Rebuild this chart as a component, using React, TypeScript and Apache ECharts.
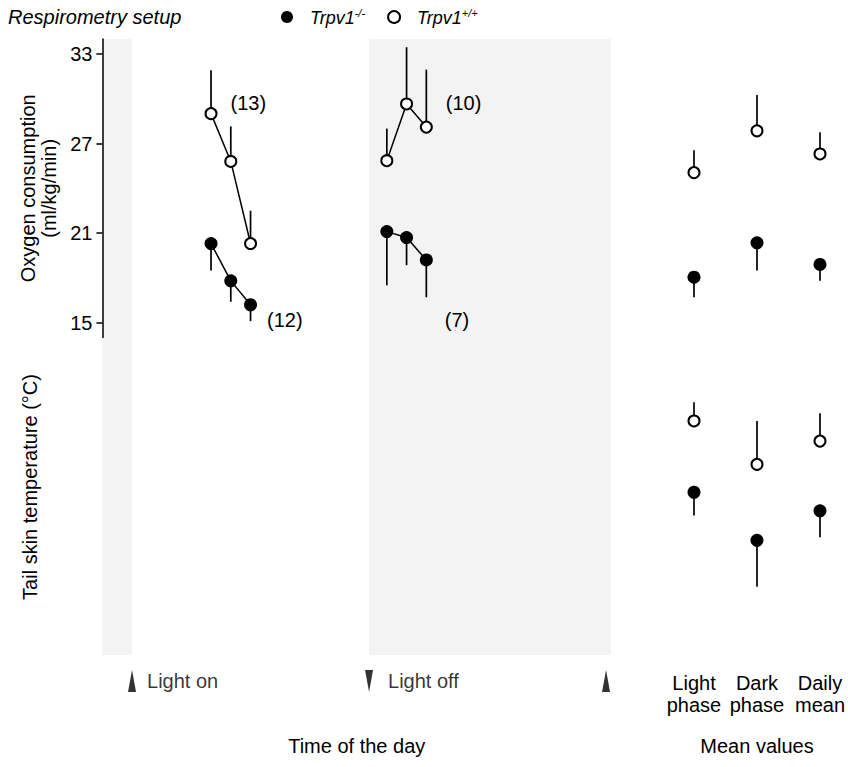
import React, { useEffect, useRef } from 'react';
import * as echarts from 'echarts';

// ---------- data ----------
const hoursLight = [4, 5, 6];
const hoursDark = [12.9, 13.9, 14.9];
const koO2Light = [20.3, 17.8, 16.2];
const koO2LightErr = [1.8, 1.4, 1.1];
const wtO2Light = [29.0, 25.8, 20.3];
const wtO2LightErr = [2.9, 2.35, 2.2];
const koO2Dark = [21.1, 20.7, 19.2];
const koO2DarkErr = [3.6, 1.85, 2.5];
const wtO2Dark = [25.85, 29.65, 28.1];
const wtO2DarkErr = [2.15, 3.8, 3.85];

const meanCategories = ['Light\nphase', 'Dark\nphase', 'Daily\nmean'];
const koO2Mean = [18.05, 20.35, 18.9];
const koO2MeanErr = [1.35, 1.85, 1.1];
const wtO2Mean = [25.05, 27.85, 26.3];
const wtO2MeanErr = [1.5, 2.4, 1.45];
const koTailMean = [29.25, 27.7, 28.65];
const koTailMeanErr = [0.75, 1.5, 0.85];
const wtTailMean = [31.55, 30.15, 30.9];
const wtTailMeanErr = [0.6, 1.4, 0.9];

const o2Ticks = [15, 21, 27, 33];
const darkPeriods = [[-1.5, 0], [12, 24.25]];
const lightEvents = [
  { hour: 0, dir: 'up', label: 'Light on', gap: 11 },
  { hour: 12, dir: 'down', label: 'Light off', gap: 15 },
  { hour: 24, dir: 'up', label: '', gap: 0 },
];
const nWtLight = '(13)';
const nKoLight = '(12)';
const nWtDark = '(10)';
const nKoDark = '(7)';

const KO = 'Trpv1-/-';
const WT = 'Trpv1+/+';
const FONT = '"Liberation Sans", Arial, sans-serif';
const FS = 20;

const UP_PATH = 'path://M4,0 L8,22 L0,22 Z';
const DOWN_PATH = 'path://M0,0 L8,0 L4,22 Z';

function errBars(xIdx: number, xs: number[], ys: number[], errs: number[], dir: number) {
  return {
    type: 'custom',
    xAxisIndex: xIdx,
    yAxisIndex: xIdx,
    z: 1,
    silent: true,
    clip: false,
    data: xs.map((x, i) => [x, ys[i], errs[i] * dir]),
    encode: { x: 0, y: 1 },
    renderItem: (params: any, api: any) => {
      const x = api.value(0);
      const y = api.value(1);
      const e = api.value(2);
      const p1 = api.coord([x, y]);
      const p2 = api.coord([x, y + e]);
      return {
        type: 'line',
        shape: { x1: p1[0], y1: p1[1], x2: p2[0], y2: p2[1] },
        style: { stroke: '#000', lineWidth: 1.7 },
      };
    },
  };
}

const openStyle = { color: '#fff', borderColor: '#000', borderWidth: 2, opacity: 1 };
const filledStyle = { color: '#000', borderColor: '#000', borderWidth: 0, opacity: 1 };
const OPEN_SIZE = 11;
const FILLED_SIZE = 13;

function lineGroup(name: string, xs: number[], ys: number[], open: boolean, labelIdx: number, labelText: string, dist: number, off: number[]) {
  return {
    type: 'line',
    name,
    xAxisIndex: 1,
    yAxisIndex: 1,
    z: 3,
    symbol: 'circle',
    symbolSize: open ? OPEN_SIZE : FILLED_SIZE,
    itemStyle: open ? openStyle : filledStyle,
    lineStyle: { color: '#000', width: 1.5 },
    clip: false,
    data: xs.map((x, i) => ({
      value: [x, ys[i]],
      label:
        i === labelIdx
          ? {
              show: true,
              position: 'right',
              distance: dist,
              offset: off,
              formatter: labelText,
              color: '#000',
              fontSize: FS,
              fontFamily: FONT,
            }
          : { show: false },
    })),
  };
}

function meanPoints(name: string, axisIdx: number, ys: number[], open: boolean) {
  return {
    type: 'scatter',
    name,
    xAxisIndex: axisIdx,
    yAxisIndex: axisIdx,
    z: 3,
    clip: false,
    symbol: 'circle',
    symbolSize: open ? OPEN_SIZE : FILLED_SIZE,
    itemStyle: open ? openStyle : filledStyle,
    data: ys.map((y, i) => [i, y]),
  };
}

export default function App() {
  const ref = useRef<HTMLDivElement>(null);
  useEffect(() => {
    if (!ref.current) return;
    const chart = echarts.init(ref.current, null, { renderer: 'svg' });
    const hourAxis = { type: 'value', min: -1.5, max: 24.25 };
    const option: any = {
      animation: false,
      backgroundColor: '#fff',
      textStyle: { fontFamily: FONT, color: '#000' },
      legend: {
        left: 281,
        top: 7,
        padding: 0,
        icon: 'circle',
        itemWidth: 12,
        itemHeight: 12,
        itemGap: 22,
        selectedMode: false,
        data: [KO, WT],
        formatter: (n: string) => (n === KO ? '{i|Trpv1}{s|-/-}' : '{i|Trpv1}{s|+/+}'),
        textStyle: {
          fontFamily: FONT,
          color: '#000',
          rich: {
            i: { fontStyle: 'italic', fontSize: 18, fontFamily: FONT, color: '#000', padding: [0, 0, 0, 12], lineHeight: 20, verticalAlign: 'bottom' },
            s: { fontStyle: 'italic', fontSize: 11, fontFamily: FONT, color: '#000', lineHeight: 20, verticalAlign: 'top' },
          },
        },
      },
      graphic: [
        {
          type: 'text',
          left: 8,
          top: 7,
          style: { text: 'Respirometry setup', font: `italic ${FS}px ${FONT}`, fill: '#000' },
        },
        {
          type: 'text',
          x: 30,
          y: 487,
          rotation: Math.PI / 2,
          style: { text: 'Tail skin temperature (\u00B0C)', font: `${FS}px ${FONT}`, fill: '#000', align: 'center', verticalAlign: 'middle' },
        },
      ],
      grid: [
        { left: 102.4, top: 39, width: 508.6, height: 616 },
        { left: 102.4, top: 39, width: 508.6, height: 298.6 },
        { left: 694, top: 39, width: 126, height: 298.6 },
        { left: 694, top: 345, width: 126, height: 310 },
        { left: 102.4, top: 670, width: 508.6, height: 22 },
      ],
      xAxis: [
        { ...hourAxis, gridIndex: 0, show: false },
        { ...hourAxis, gridIndex: 1, show: false, axisLine: { onZero: false } },
        { type: 'category', gridIndex: 2, data: meanCategories, boundaryGap: false, show: false },
        {
          type: 'category',
          gridIndex: 3,
          data: meanCategories,
          boundaryGap: false,
          axisLine: { show: false, onZero: false },
          axisTick: { show: false },
          axisLabel: { fontSize: FS, lineHeight: 22, margin: 17, color: '#000', fontFamily: FONT, interval: 0 },
          name: 'Mean values',
          nameLocation: 'middle',
          nameGap: 81,
          nameTextStyle: { fontSize: FS, color: '#000', fontFamily: FONT },
          splitLine: { show: false },
        },
        {
          ...hourAxis,
          gridIndex: 4,
          axisLine: { show: false, onZero: false },
          axisTick: { show: false },
          axisLabel: { show: false },
          splitLine: { show: false },
          name: 'Time of the day',
          nameLocation: 'middle',
          nameGap: 44,
          nameTextStyle: { fontSize: FS, color: '#000', fontFamily: FONT },
        },
      ],
      yAxis: [
        { type: 'value', gridIndex: 0, min: 0, max: 1, show: false },
        {
          type: 'value',
          gridIndex: 1,
          min: 14,
          max: 34,
          axisLine: { show: true, onZero: false, lineStyle: { color: '#000', width: 1.5 } },
          axisTick: { show: true, inside: false, length: 6, lineStyle: { color: '#000', width: 1.5 }, customValues: o2Ticks },
          axisLabel: { fontSize: FS, margin: 10, color: '#000', fontFamily: FONT, customValues: o2Ticks },
          splitLine: { show: false },
          name: 'Oxygen consumption\n(ml/kg/min)',
          nameLocation: 'middle',
          nameGap: 40,
          nameTextStyle: { fontSize: FS, lineHeight: 21, color: '#000', fontFamily: FONT },
        },
        { type: 'value', gridIndex: 2, min: 14, max: 34, show: false },
        { type: 'value', gridIndex: 3, min: 24, max: 34, show: false },
        { type: 'value', gridIndex: 4, min: 0, max: 1, show: false },
      ],
      series: [
        {
          type: 'custom',
          xAxisIndex: 0,
          yAxisIndex: 0,
          z: 0,
          silent: true,
          clip: false,
          data: darkPeriods,
          encode: { x: [0, 1] },
          renderItem: (params: any, api: any) => {
            const a = api.coord([api.value(0), 1]);
            const b = api.coord([api.value(1), 0]);
            return {
              type: 'rect',
              shape: { x: a[0], y: a[1], width: b[0] - a[0], height: b[1] - a[1] },
              style: { fill: '#f3f3f3' },
            };
          },
        },
        {
          type: 'scatter',
          xAxisIndex: 4,
          yAxisIndex: 4,
          clip: false,
          silent: true,
          symbolSize: [8, 22],
          itemStyle: { color: '#000' },
          data: lightEvents.map((e) => ({
            value: [e.hour, 0.5],
            symbol: e.dir === 'up' ? UP_PATH : DOWN_PATH,
            label: {
              show: e.label !== '',
              position: 'right',
              distance: e.gap,
              formatter: e.label,
              fontSize: FS,
              color: '#000',
              fontFamily: FONT,
            },
          })),
        },
        errBars(1, hoursLight, wtO2Light, wtO2LightErr, 1),
        errBars(1, hoursLight, koO2Light, koO2LightErr, -1),
        errBars(1, hoursDark, wtO2Dark, wtO2DarkErr, 1),
        errBars(1, hoursDark, koO2Dark, koO2DarkErr, -1),
        lineGroup(WT, hoursLight, wtO2Light, true, 0, nWtLight, 13, [0, -11]),
        lineGroup(KO, hoursLight, koO2Light, false, 2, nKoLight, 10, [0, 15]),
        lineGroup(WT, hoursDark, wtO2Dark, true, 2, nWtDark, 13, [0, -24]),
        lineGroup(KO, hoursDark, koO2Dark, false, 2, nKoDark, 12, [0, 60]),
        errBars(2, [0, 1, 2], wtO2Mean, wtO2MeanErr, 1),
        errBars(2, [0, 1, 2], koO2Mean, koO2MeanErr, -1),
        meanPoints(WT, 2, wtO2Mean, true),
        meanPoints(KO, 2, koO2Mean, false),
        errBars(3, [0, 1, 2], wtTailMean, wtTailMeanErr, 1),
        errBars(3, [0, 1, 2], koTailMean, koTailMeanErr, -1),
        meanPoints(WT, 3, wtTailMean, true),
        meanPoints(KO, 3, koTailMean, false),
      ],
    };
    chart.setOption(option);
    return () => chart.dispose();
  }, []);
  return (
    <div
      ref={ref}
      style={{ position: 'fixed', left: 0, top: 0, width: 848, height: 767, background: '#fff' }}
    />
  );
}
